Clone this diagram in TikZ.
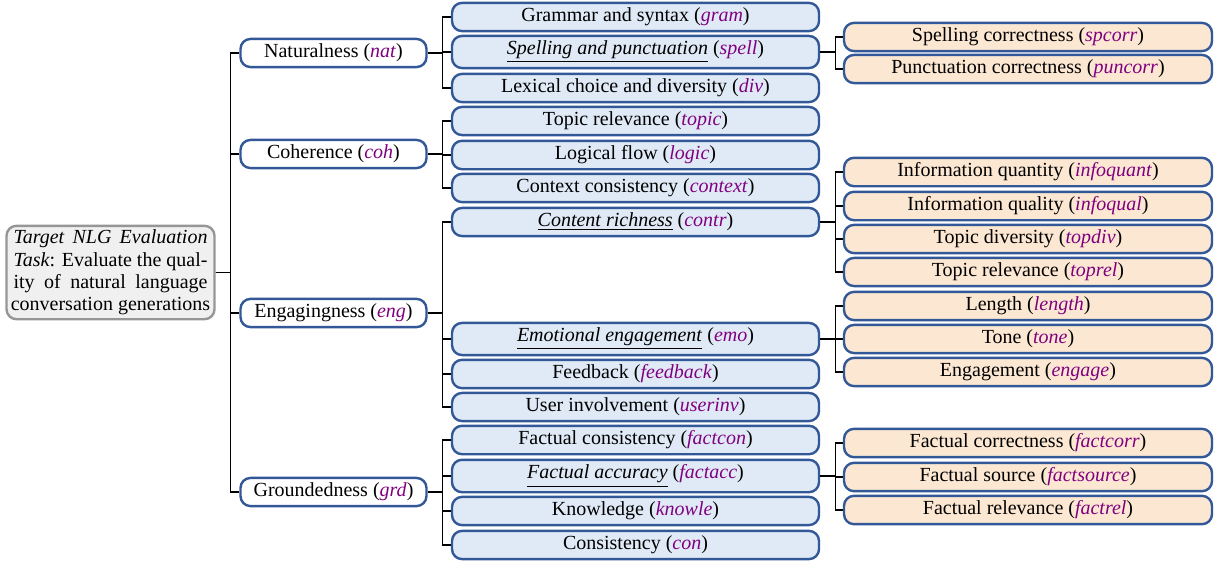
\documentclass[tikz,border=0pt]{standalone}
\usepackage{fontspec}
\setmainfont{Liberation Serif}
\usepackage{xcolor}
\usetikzlibrary{calc}

\definecolor{boxblue}{RGB}{50,88,152}
\definecolor{subfill}{RGB}{223,234,246}
\definecolor{leaffill}{RGB}{252,231,210}
\definecolor{rootfill}{RGB}{240,240,240}
\definecolor{rootdraw}{RGB}{150,150,150}
\definecolor{abbrcol}{RGB}{128,0,128}
\newcommand{\abbr}[1]{(\textcolor{abbrcol}{\textit{#1}})}
\newcommand{\rootline}[1]{\makebox[97pt][s]{#1}}

\begin{document}
\begin{tikzpicture}[x=0.5pt,y=-0.5pt,font=\fontsize{10}{11.2}\selectfont,
                    box/.style={rectangle,rounded corners=5pt,draw=boxblue,line width=1.2pt,inner xsep=2pt,inner ysep=2.5pt},
                    root node/.style={rectangle,rounded corners=5pt,draw=rootdraw,fill=rootfill,line width=1.2pt,
                                      minimum width=104pt,minimum height=46.5pt,align=center,inner sep=2pt},
                    cat node/.style={box,fill=white,minimum width=93pt},
                    sub node/.style={box,fill=subfill,minimum width=183.5pt},
                    leaf node/.style={box,fill=leaffill,minimum width=184pt},
                    fork/.style={line width=0.6pt,to path={-- ++(15,0) |- (\tikztotarget)}}]

  \useasboundingbox (0,0) rectangle (1220,563);

  % root
  \node[root node] (task) at (110.5,272.5) {\rootline{\textit{Target NLG Evaluation}}\\
    \rootline{\textit{Task}: Evaluate the qual-}\\
    \rootline{ity of natural language}\\
    conversation generations};

  % first level
  \node[cat node] (nat) at (333.5,53)  {Naturalness \abbr{nat}};
  \node[cat node] (coh) at (333.5,154) {Coherence \abbr{coh}};
  \node[cat node] (eng) at (333.5,313) {Engagingness \abbr{eng}};
  \node[cat node] (grd) at (333.5,492) {Groundedness \abbr{grd}};

  % second level
  \node[sub node] (gram)     at (635.5,17)  {Grammar and syntax \abbr{gram}};
  \node[sub node] (spell)    at (635.5,52)  {\underline{\textit{Spelling and punctuation}} \abbr{spell}};
  \node[sub node] (div)      at (635.5,88)  {Lexical choice and diversity \abbr{div}};
  \node[sub node] (topic)    at (635.5,121) {Topic relevance \abbr{topic}};
  \node[sub node] (logic)    at (635.5,155) {Logical flow \abbr{logic}};
  \node[sub node] (context)  at (635.5,188) {Context consistency \abbr{context}};
  \node[sub node] (contr)    at (635.5,222) {\underline{\textit{Content richness}} \abbr{contr}};
  \node[sub node] (emo)      at (635.5,339) {\underline{\textit{Emotional engagement}} \abbr{emo}};
  \node[sub node] (feedback) at (635.5,374) {Feedback \abbr{feedback}};
  \node[sub node] (userinv)  at (635.5,407) {User involvement \abbr{userinv}};
  \node[sub node] (factcon)  at (635.5,440) {Factual consistency \abbr{factcon}};
  \node[sub node] (factacc)  at (635.5,476) {\underline{\textit{Factual accuracy}} \abbr{factacc}};
  \node[sub node] (knowle)   at (635.5,511) {Knowledge \abbr{knowle}};
  \node[sub node] (con)      at (635.5,545) {Consistency \abbr{con}};

  % third level
  \node[leaf node] (spcorr)     at (1028,37)  {Spelling correctness \abbr{spcorr}};
  \node[leaf node] (puncorr)    at (1028,69)  {Punctuation correctness \abbr{puncorr}};
  \node[leaf node] (infoquant)  at (1028,172) {Information quantity \abbr{infoquant}};
  \node[leaf node] (infoqual)   at (1028,206) {Information quality \abbr{infoqual}};
  \node[leaf node] (topdiv)     at (1028,239) {Topic diversity \abbr{topdiv}};
  \node[leaf node] (toprel)     at (1028,272) {Topic relevance \abbr{toprel}};
  \node[leaf node] (length)     at (1028,306) {Length \abbr{length}};
  \node[leaf node] (tone)       at (1028,339) {Tone \abbr{tone}};
  \node[leaf node] (engage)     at (1028,372) {Engagement \abbr{engage}};
  \node[leaf node] (factcorr)   at (1028,443) {Factual correctness \abbr{factcorr}};
  \node[leaf node] (factsource) at (1028,477) {Factual source \abbr{factsource}};
  \node[leaf node] (factrel)    at (1028,510) {Factual relevance \abbr{factrel}};

  \path[fork]
    (task.east) edge (nat.west)
                edge (coh.west)
                edge (eng.west)
                edge (grd.west)
    (nat.east) edge (gram.west)
               edge (spell.west)
               edge (div.west)
    (coh.east) edge (topic.west)
               edge (logic.west)
               edge (context.west)
    (eng.east) edge (contr.west)
               edge (emo.west)
               edge (feedback.west)
               edge (userinv.west)
    (grd.east) edge (factcon.west)
               edge (factacc.west)
               edge (knowle.west)
               edge (con.west)
    (spell.east) edge (spcorr.west)
                 edge (puncorr.west)
    (contr.east) edge (infoquant.west)
                 edge (infoqual.west)
                 edge (topdiv.west)
                 edge (toprel.west)
    (emo.east) edge (length.west)
               edge (tone.west)
               edge (engage.west)
    (factacc.east) edge (factcorr.west)
                   edge (factsource.west)
                   edge (factrel.west);

\end{tikzpicture}
\end{document}
